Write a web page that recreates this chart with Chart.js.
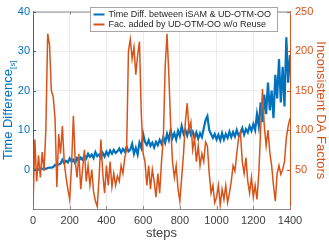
<!DOCTYPE html>
<html>
<head>
<meta charset="utf-8">
<script src="https://cdn.jsdelivr.net/npm/chart.js@4/dist/chart.umd.min.js"></script>
<style>
  html, body { margin: 0; padding: 0; background: #fff; }
  canvas { display: block; }
</style>
</head>
<body>
<canvas id="chart" width="329" height="241"></canvas>
<script>
// step index (x), sampled every 10 steps
const steps = [
  0, 10, 20, 30, 40, 50, 60, 70, 80, 90,
  100, 110, 120, 130, 140, 150, 160, 170, 180, 190,
  200, 210, 220, 230, 240, 250, 260, 270, 280, 290,
  300, 310, 320, 330, 340, 350, 360, 370, 380, 390,
  400, 410, 420, 430, 440, 450, 460, 470, 480, 490,
  500, 510, 520, 530, 540, 550, 560, 570, 580, 590,
  600, 610, 620, 630, 640, 650, 660, 670, 680, 690,
  700, 710, 720, 730, 740, 750, 760, 770, 780, 790,
  800, 810, 820, 830, 840, 850, 860, 870, 880, 890,
  900, 910, 920, 930, 940, 950, 960, 970, 980, 990,
  1000, 1010, 1020, 1030, 1040, 1050, 1060, 1070, 1080, 1090,
  1100, 1110, 1120, 1130, 1140, 1150, 1160, 1170, 1180, 1190,
  1200, 1210, 1220, 1230, 1240, 1250, 1260, 1270, 1280, 1290,
  1300, 1310, 1320, 1330, 1340, 1350, 1360, 1370, 1380, 1390,
  1400
];

// time difference between iSAM & UD-OTM-OO [s] (left axis)
const timeDiff = [
  0, 0, 0.1, 0, 0.1, 0.2, 0.3, 0.2, 0.4, 0.5,
  0.5, 0.6, 1.2, 1.0, 1.3, 1.5, 2.5, 1.6, 2.2, 1.8,
  2.8, 2.0, 2.5, 1.6, 2.9, 2.2, 3.0, 2.5, 3.6, 2.8,
  4.0, 3.2, 3.8, 2.9, 4.4, 3.4, 3.8, 2.9, 4.2, 3.3,
  4.5, 3.6, 4.8, 4.0, 5.0, 4.2, 4.6, 5.3, 4.3, 5.2,
  4.5, 5.8, 4.6, 5.0, 6.5, 4.0, 5.5, 3.8, 6.8, 5.5,
  9.0, 7.0, 6.2, 7.4, 6.0, 6.8, 5.6, 7.0, 6.2, 7.5,
  6.5, 8.2, 6.8, 9.0, 7.5, 10.0, 8.0, 9.2, 7.6, 9.8,
  8.5, 11.0, 9.0, 10.0, 8.6, 10.5, 8.8, 9.6, 8.0, 9.4,
  7.8, 9.2, 8.2, 10.4, 12.5, 13.5, 10.0, 9.0, 8.0, 9.0,
  7.6, 8.8, 7.4, 9.2, 7.6, 9.0, 8.0, 9.6, 8.2, 9.5,
  8.4, 10.0, 8.6, 9.2, 10.5, 8.8, 10.2, 9.4, 11.0, 9.8,
  11.5, 10.0, 14.0, 11.0, 17.0, 12.0, 19.0, 14.0, 22.0, 15.0,
  20.0, 13.0, 24.0, 18.0, 28.0, 17.0, 26.0, 16.0, 33.5, 22.0,
  29.0
];

// factors added by UD-OTM-OO w/o reuse (right axis)
const addedFactors = [
  2, 88, 35, 68, 40, 72, 48, 100, 222, 208,
  150, 142, 115, 28, 95, 70, 105, 60, 40, 25,
  12, 55, 118, 60, 40, 70, 25, 50, 75, 35,
  55, 30, 50, 22, 10, 3, 40, 88, 45, 20,
  55, 30, 60, 28, 45, 30, 42, 35, 55, 45,
  65, 75, 200, 215, 190, 205, 170, 195, 212, 120,
  70, 60, 30, 55, 25, 50, 35, 15, 45, 20,
  60, 90, 180, 222, 170, 105, 60, 40, 55, 25,
  10, 40, 70, 110, 134, 100, 110, 75, 90, 60,
  80, 55, 70, 60, 85, 80, 45, 20, 30, 8,
  15, 30, 5, 25, 12, 30, 8, 20, 35, 55,
  48, 70, 90, 97, 60, 45, 65, 35, 20, 40,
  15, 30, 12, 45, 100, 152, 105, 80, 100, 72,
  55, 30, 10, 45, 55, 44, 50, 60, 90, 105,
  115
];

const seriesNames = ['Time Diff. between iSAM & UD-OTM-OO', 'Fac. added by UD-OTM-OO w/o Reuse'];
const xTicks = [0, 200, 400, 600, 800, 1000, 1200, 1400];
const leftTicks = [0, 10, 20, 30, 40];
const rightTicks = [50, 100, 150, 200, 250];

const BLUE = '#0072BD';
const ORANGE = '#D95319';
const AXIS_GRAY = '#8c8c8c';
const TEXT_GRAY = '#404040';
const FONT = '"Liberation Sans", Arial, Helvetica, sans-serif';

// axis titles, legend box, inward tick marks
const decorations = {
  id: 'decorations',
  afterDraw(chart) {
    const { ctx, chartArea: a, scales } = chart;
    ctx.save();

    // top border
    ctx.strokeStyle = AXIS_GRAY;
    ctx.lineWidth = 1;
    ctx.beginPath();
    ctx.moveTo(a.left, a.top + 0.5);
    ctx.lineTo(a.right, a.top + 0.5);
    ctx.stroke();

    // inward ticks
    const tick = (x1, y1, x2, y2, color) => {
      ctx.strokeStyle = color;
      ctx.beginPath();
      ctx.moveTo(x1, y1);
      ctx.lineTo(x2, y2);
      ctx.stroke();
    };
    xTicks.forEach(v => {
      const x = Math.round(scales.x.getPixelForValue(v)) + 0.5;
      tick(x, a.bottom, x, a.bottom - 3, AXIS_GRAY);
      tick(x, a.top, x, a.top + 3, AXIS_GRAY);
    });
    leftTicks.forEach(v => {
      const y = Math.round(scales.y.getPixelForValue(v)) + 0.5;
      tick(a.left, y, a.left + 3, y, BLUE);
    });
    rightTicks.forEach(v => {
      const y = Math.round(scales.y1.getPixelForValue(v)) + 0.5;
      tick(a.right, y, a.right - 3, y, ORANGE);
    });

    // left title with subscript
    const midY = (a.top + a.bottom) / 2;
    ctx.save();
    ctx.translate(12, midY);
    ctx.rotate(-Math.PI / 2);
    ctx.font = '13px ' + FONT;
    const mainW = ctx.measureText('Time Difference').width;
    ctx.font = '8px ' + FONT;
    const subW = ctx.measureText('[s]').width;
    const startX = -(mainW + subW) / 2;
    ctx.fillStyle = BLUE;
    ctx.textBaseline = 'alphabetic';
    ctx.font = '13px ' + FONT;
    ctx.fillText('Time Difference', startX, 0);
    ctx.font = '8px ' + FONT;
    ctx.fillText('[s]', startX + mainW, 3);
    ctx.restore();

    // right title
    ctx.save();
    ctx.translate(321, midY);
    ctx.rotate(Math.PI / 2);
    ctx.font = '13px ' + FONT;
    ctx.fillStyle = ORANGE;
    ctx.textAlign = 'center';
    ctx.textBaseline = 'middle';
    ctx.fillText('Inconsistent DA Factors', 0, 0);
    ctx.restore();

    // x title
    ctx.font = '13px ' + FONT;
    ctx.fillStyle = TEXT_GRAY;
    ctx.textAlign = 'center';
    ctx.textBaseline = 'middle';
    ctx.fillText('steps', (a.left + a.right) / 2, 233);

    // legend box
    const bx = 90.5, by = 7.5, bw = 187, bh = 24;
    ctx.fillStyle = '#fff';
    ctx.fillRect(bx, by, bw, bh);
    ctx.strokeStyle = '#a6a6a6';
    ctx.strokeRect(bx, by, bw, bh);
    ctx.font = '9px ' + FONT;
    ctx.textAlign = 'left';
    ctx.textBaseline = 'middle';
    [BLUE, ORANGE].forEach((c, i) => {
      const y = by + 7 + i * 10;
      ctx.strokeStyle = c;
      ctx.lineWidth = 2;
      ctx.beginPath();
      ctx.moveTo(bx + 3, y);
      ctx.lineTo(bx + 14, y);
      ctx.stroke();
      ctx.fillStyle = '#262626';
      ctx.fillText(seriesNames[i], bx + 18, y + 0.5);
    });

    ctx.restore();
  }
};

const toPoints = vals => steps.map((s, i) => ({ x: s, y: vals[i] }));
const setTicks = list => axis => { axis.ticks = list.map(v => ({ value: v })); };
const plain = v => String(v);

new Chart(document.getElementById('chart'), {
  type: 'line',
  data: {
    datasets: [
      {
        label: seriesNames[1],
        data: toPoints(addedFactors),
        yAxisID: 'y1',
        borderColor: ORANGE,
        borderWidth: 1.5,
        pointRadius: 0,
        tension: 0
      },
      {
        label: seriesNames[0],
        data: toPoints(timeDiff),
        yAxisID: 'y',
        borderColor: BLUE,
        borderWidth: 2.2,
        pointRadius: 0,
        tension: 0
      }
    ]
  },
  options: {
    responsive: false,
    devicePixelRatio: 1,
    animation: false,
    layout: { padding: { top: 5, left: 0, right: 0, bottom: 0 } },
    plugins: {
      legend: { display: false },
      tooltip: { enabled: false }
    },
    scales: {
      x: {
        type: 'linear',
        min: 0,
        max: 1400,
        afterBuildTicks: setTicks(xTicks),
        afterFit: s => { s.height = 32; },
        ticks: { color: TEXT_GRAY, font: { family: FONT, size: 11 }, padding: 5, maxRotation: 0, autoSkip: false, callback: plain },
        grid: { color: '#ececec', drawTicks: false },
        border: { color: AXIS_GRAY }
      },
      y: {
        position: 'left',
        min: -10,
        max: 40,
        afterBuildTicks: setTicks(leftTicks),
        afterFit: s => { s.width = 33; },
        ticks: { color: BLUE, font: { family: FONT, size: 11 }, padding: 3, callback: plain },
        grid: { color: '#ececec', drawTicks: false },
        border: { color: BLUE }
      },
      y1: {
        position: 'right',
        min: 0,
        max: 250,
        afterBuildTicks: setTicks(rightTicks),
        afterFit: s => { s.width = 39; },
        ticks: { color: ORANGE, font: { family: FONT, size: 11 }, padding: 5, callback: plain },
        grid: { drawOnChartArea: false, drawTicks: false },
        border: { color: ORANGE }
      }
    }
  },
  plugins: [decorations]
});
</script>
</body>
</html>
